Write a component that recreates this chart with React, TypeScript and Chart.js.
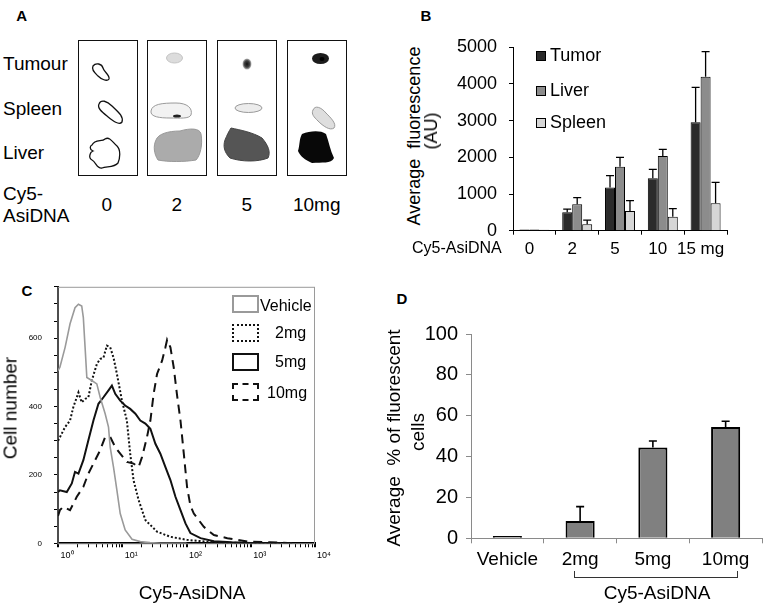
import React, { useEffect, useRef } from 'react';
import { Chart, registerables } from 'chart.js';

Chart.register(...registerables);

const FONT = "'Liberation Sans', Arial, Helvetica, sans-serif";

// ---------- Panel A (image panel: labels) ----------
const aOrgans = ['Tumour', 'Spleen', 'Liver'];
const aDoses = ['0', '2', '5', '10mg'];

// ---------- Panel B data ----------
const bCategories = ['0', '2', '5', '10', '15 mg'];
const bSeries = ['Tumor', 'Liver', 'Spleen'];
const bTumor = [30, 500, 1180, 1427, 2955];
const bTumorErr = [0, 90, 320, 245, 955];
const bLiver = [30, 718, 1745, 2036, 4200];
const bLiverErr = [0, 182, 255, 182, 682];
const bSpleen = [25, 173, 536, 382, 745];
const bSpleenErr = [0, 118, 282, 218, 573];

// ---------- Panel C data (x = Cy5 intensity, y = cell count) ----------
const cVehicle: [number, number][] = [
  [1.0, 505], [1.07, 515], [1.29, 573], [1.54, 642], [1.84, 689], [2.08, 699], [2.34, 694],
  [2.48, 660], [2.64, 573], [2.81, 485], [3.36, 476], [4.02, 466], [4.53, 427], [5.42, 379],
  [6.11, 340], [6.49, 281], [7.31, 223], [8.26, 155], [9.3, 87], [11.1, 39], [14.2, 12],
  [19.1, 5], [27, 2], [40, 0], [100, 0],
];
const c2mg: [number, number][] = [
  [1.0, 300], [1.07, 310], [1.29, 340], [1.54, 359], [1.73, 398], [1.96, 427], [2.08, 441],
  [2.34, 412], [2.64, 422], [2.97, 427], [3.36, 476], [4.02, 524], [4.53, 539], [5.1, 543],
  [5.77, 578], [6.49, 573], [7.31, 543], [8.26, 495], [9.9, 417], [11.8, 359], [13.3, 262],
  [15.0, 184], [18.0, 126], [22.9, 68], [34.8, 34], [56.2, 19], [102, 10], [200, 5],
  [400, 2], [1000, 1], [3000, 0],
];
const c5mg: [number, number][] = [
  [1.0, 150], [1.07, 155], [1.37, 150], [1.64, 175], [1.84, 209], [2.08, 204], [2.48, 243],
  [2.97, 301], [3.56, 359], [4.26, 408], [5.1, 427], [6.11, 447], [6.9, 461], [7.78, 437],
  [9.3, 417], [11.1, 403], [13.3, 393], [16.0, 379], [19.1, 359], [22.9, 350], [27.4, 335],
  [32.8, 291], [39.2, 262], [47.0, 223], [56.2, 185], [67.3, 136], [80.6, 97], [96.4, 58],
  [115, 30], [165, 15], [267, 6], [500, 3], [1000, 1], [3000, 0],
];
const c10mg: [number, number][] = [
  [1.0, 80], [1.07, 97], [1.21, 107], [1.54, 97], [1.96, 136], [2.48, 165], [2.97, 204],
  [3.56, 233], [4.53, 272], [5.42, 311], [6.49, 311], [7.78, 281], [9.3, 262], [11.8, 238],
  [15.0, 233], [18.0, 223], [20.3, 252], [24.3, 311], [27.4, 359], [30.8, 437], [34.8, 495],
  [41.7, 534], [47.0, 573], [49.9, 595], [56.2, 573], [63.3, 514], [71.6, 430], [80.6, 359],
  [90.8, 262], [102, 165], [115, 110], [130, 87], [186, 48], [267, 24], [432, 15], [888, 5],
  [2000, 3], [5000, 0],
];
const cDecades = [1, 10, 100, 1000, 10000];
const cDecadeLabels = ['10\u2070', '10\u00b9', '10\u00b2', '10\u00b3', '10\u2074'];
const cYLabels = [0, 200, 400, 600];
const cLegend = ['Vehicle', '2mg', '5mg', '10mg'];

// ---------- Panel D data ----------
const dCategories = ['Vehicle', '2mg', '5mg', '10mg'];
const dValues = [1.1, 8.5, 44.4, 54.5];
const dErr = [0, 7, 3.2, 2.8];

// ---------- plugins ----------
const errorBarPlugin = {
  id: 'errorBars',
  afterDatasetsDraw(chart: any, _args: any, opts: any) {
    const { ctx } = chart;
    const yScale = chart.scales.y;
    chart.data.datasets.forEach((ds: any, di: number) => {
      const errs: number[] | undefined = ds.errors;
      if (!errs) return;
      const meta = chart.getDatasetMeta(di);
      meta.data.forEach((bar: any, i: number) => {
        const e = errs[i];
        if (!e) return;
        const v = ds.data[i];
        const y0 = yScale.getPixelForValue(v);
        const y1 = yScale.getPixelForValue(v + e);
        const cap = opts.cap ?? 8;
        ctx.save();
        ctx.strokeStyle = '#000';
        ctx.lineWidth = opts.lineWidth ?? 1.3;
        ctx.beginPath();
        ctx.moveTo(bar.x, y0);
        ctx.lineTo(bar.x, y1);
        ctx.moveTo(bar.x - cap / 2, y1);
        ctx.lineTo(bar.x + cap / 2, y1);
        ctx.stroke();
        ctx.restore();
      });
    });
  },
};

const framePlugin = {
  id: 'frame',
  beforeDatasetsDraw(chart: any, _args: any, opts: any) {
    const { ctx, chartArea } = chart;
    ctx.save();
    ctx.strokeStyle = opts.color || '#999';
    ctx.lineWidth = 1;
    ctx.strokeRect(chartArea.left, chartArea.top + 0.5, chartArea.right - chartArea.left - 0.5, chartArea.bottom - chartArea.top);
    ctx.restore();
  },
};

const toXY = (arr: [number, number][]) => arr.map(([x, y]) => ({ x, y }));

// ---------- configs ----------
const bConfig = (): any => ({
  type: 'bar',
  data: {
    labels: bCategories,
    datasets: [
      { label: bSeries[0], data: bTumor, errors: bTumorErr, backgroundColor: '#2b2b2b', borderColor: '#000', borderWidth: 1 },
      { label: bSeries[1], data: bLiver, errors: bLiverErr, backgroundColor: '#8c8c8c', borderColor: '#000', borderWidth: 1 },
      { label: bSeries[2], data: bSpleen, errors: bSpleenErr, backgroundColor: '#d6d6d6', borderColor: '#000', borderWidth: 1 },
    ],
  },
  options: {
    responsive: false,
    animation: false,
    layout: { padding: { top: 27.3, right: 38, left: 0, bottom: 0 } },
    datasets: { bar: { categoryPercentage: 0.7, barPercentage: 1 } },
    plugins: { legend: { display: false }, tooltip: { enabled: false }, errorBars: { cap: 8, lineWidth: 1.3 } },
    scales: {
      x: {
        grid: { display: true, drawOnChartArea: false, offset: true, tickLength: 4, color: '#000' },
        border: { color: '#000', width: 1 },
        ticks: { color: '#000', font: { family: FONT, size: 17 }, padding: 4, labelOffset: -5, maxRotation: 0, autoSkip: false },
        afterFit: (s: any) => { s.height = 39.3; },
      },
      y: {
        min: 0,
        max: 5000,
        ticks: { stepSize: 1000, color: '#000', font: { family: FONT, size: 18 }, padding: 12, callback: (v: any) => String(v) },
        grid: { drawOnChartArea: false, tickLength: 4, color: '#000' },
        border: { color: '#000', width: 1 },
        afterFit: (s: any) => { s.width = 73; },
      },
    },
  },
  plugins: [errorBarPlugin],
});

const cConfig = (): any => ({
  type: 'line',
  data: {
    datasets: [
      { label: cLegend[0], data: toXY(cVehicle), borderColor: '#9a9a9a', borderWidth: 1.6 },
      { label: cLegend[1], data: toXY(c2mg), borderColor: '#111', borderWidth: 2, borderDash: [2, 2] },
      { label: cLegend[2], data: toXY(c5mg), borderColor: '#111', borderWidth: 2 },
      { label: cLegend[3], data: toXY(c10mg), borderColor: '#111', borderWidth: 2, borderDash: [9, 6] },
    ],
  },
  options: {
    responsive: false,
    animation: false,
    layout: { padding: { top: 15, right: 65, left: 0, bottom: 0 } },
    elements: { point: { radius: 0 }, line: { tension: 0 } },
    plugins: { legend: { display: false }, tooltip: { enabled: false }, frame: { color: '#9a9a9a' } },
    scales: {
      x: {
        type: 'logarithmic',
        min: 1,
        max: 10000,
        afterBuildTicks: (s: any) => {
          const t: any[] = [];
          cDecades.forEach((d, i) => {
            if (i === cDecades.length - 1) { t.push({ value: d, major: true }); return; }
            for (let k = 1; k <= 9; k++) t.push({ value: d * k, major: k === 1 });
          });
          s.ticks = t;
        },
        ticks: {
          autoSkip: false,
          maxRotation: 0,
          labelOffset: 9,
          padding: 3,
          color: '#000',
          font: { family: FONT, size: 9 },
          callback: (v: any) => {
            const i = cDecades.indexOf(Number(v));
            return i >= 0 ? cDecadeLabels[i] : '';
          },
        },
        grid: {
          drawOnChartArea: false,
          tickLength: 4,
          color: '#000',
          lineWidth: (ctx: any) => (ctx.tick && cDecades.includes(ctx.tick.value) ? 2 : 1),
        },
        border: { color: '#000', width: 2 },
        afterFit: (s: any) => { s.height = 59.7; },
      },
      y: {
        min: 0,
        max: 750,
        ticks: {
          stepSize: 50,
          autoSkip: false,
          color: '#000',
          font: { family: FONT, size: 8 },
          padding: 12,
          callback: (v: any) => (cYLabels.includes(Number(v)) ? String(v) : ''),
        },
        grid: { drawOnChartArea: false, tickLength: 4, color: '#000' },
        border: { color: '#000', width: 2 },
        afterFit: (s: any) => { s.width = 58; },
      },
    },
  },
  plugins: [framePlugin],
});

const dConfig = (): any => ({
  type: 'bar',
  data: {
    labels: dCategories,
    datasets: [
      { label: 'Average % of fluorescent cells', data: dValues, errors: dErr, backgroundColor: '#808080', borderColor: '#000', borderWidth: 2 },
    ],
  },
  options: {
    responsive: false,
    animation: false,
    layout: { padding: { top: 34, right: 3, left: 0, bottom: 0 } },
    datasets: { bar: { categoryPercentage: 0.4, barPercentage: 1 } },
    plugins: { legend: { display: false }, tooltip: { enabled: false }, errorBars: { cap: 8, lineWidth: 1.6 } },
    scales: {
      x: {
        grid: { display: true, drawOnChartArea: false, offset: true, tickLength: 5, color: '#8a8a8a' },
        border: { color: '#8a8a8a', width: 1 },
        ticks: { color: '#000', font: { family: FONT, size: 19 }, padding: 5, maxRotation: 0, autoSkip: false },
        afterFit: (s: any) => { s.height = 64.7; },
      },
      y: {
        min: 0,
        max: 100,
        ticks: { stepSize: 20, color: '#000', font: { family: FONT, size: 20 }, padding: 8 },
        grid: { drawOnChartArea: false, tickLength: 5, color: '#8a8a8a' },
        border: { color: '#8a8a8a', width: 1 },
        afterFit: (s: any) => { s.width = 91; },
      },
    },
  },
  plugins: [errorBarPlugin],
});

// ---------- helpers ----------
function ChartCanvas({ left, top, width, height, config }: { left: number; top: number; width: number; height: number; config: () => any }) {
  const ref = useRef<HTMLCanvasElement>(null);
  useEffect(() => {
    const chart = new Chart(ref.current as HTMLCanvasElement, config());
    return () => chart.destroy();
  }, []);
  return <canvas ref={ref} width={width} height={height} style={{ position: 'absolute', left, top, width, height }} />;
}

function T({ x, y, size, children, bold, rotate, left }: { x: number; y: number; size: number; children: React.ReactNode; bold?: boolean; rotate?: boolean; left?: boolean }) {
  return (
    <div
      style={{
        position: 'absolute',
        left: x,
        top: y,
        fontSize: size,
        fontWeight: bold ? 'bold' : 'normal',
        lineHeight: 1,
        whiteSpace: 'pre',
        color: '#000',
        transform: `translate(${left ? '0' : '-50%'}, -50%)${rotate ? ' rotate(-90deg)' : ''}`,
      }}
    >
      {children}
    </div>
  );
}

function PanelA() {
  const boxLefts = [77.7, 147, 217.3, 287];
  const organY = [63, 108, 152];
  const doseX = [106.7, 176.7, 246.7, 316.7];
  return (
    <>
      {aOrgans.map((o, i) => (
        <T key={o} x={3} y={organY[i]} size={19} left>{o}</T>
      ))}
      <T x={3} y={193} size={19} left>Cy5-</T>
      <T x={3} y={215} size={19} left>AsiDNA</T>
      {aDoses.map((d, i) => (
        <T key={d} x={doseX[i]} y={204} size={19}>{d}</T>
      ))}
      {boxLefts.map((l, i) => (
        <div key={i} style={{ position: 'absolute', left: l, top: 40, width: 58, height: 134, border: '1.5px solid #111' }} />
      ))}
      <svg width={360} height={270} style={{ position: 'absolute', left: 0, top: 0 }}>
        <defs>
          <radialGradient id="spot" cx="50%" cy="50%" r="50%">
            <stop offset="0%" stopColor="#111" />
            <stop offset="60%" stopColor="#444" />
            <stop offset="100%" stopColor="#bbb" />
          </radialGradient>
        </defs>
        <g fill="none" stroke="#111" strokeWidth={1.3}>
          <path d="M93,66 C96,62 102,64 103,68 C104,72 110,75 109,79 C107,82 101,79 98,76 C95,73 91,70 93,66 Z" />
          <path d="M99,104 C101,99 107,101 112,106 C117,111 124,116 122,122 C119,126 112,120 107,116 C102,112 97,108 99,104 Z" />
          <path d="M92,145 C95,139 102,142 105,139 C110,136 113,143 117,146 C121,150 120,158 118,163 C114,168 106,166 102,168 C97,169 96,162 92,160 C88,158 90,152 93,151 C89,149 90,146 92,145 Z" />
        </g>
        <ellipse cx={174.5} cy={58} rx={8} ry={5} fill="#dcdcdc" stroke="#c4c4c4" />
        <path d="M151,111 C152,104 162,103 176,103 C187,103 193,108 191,115 C189,119 180,118 170,118 C160,118 150,117 151,111 Z" fill="#f2f2f2" stroke="#9a9a9a" strokeWidth={1} />
        <ellipse cx={177} cy={116} rx={4} ry={1.6} fill="#222" />
        <path d="M156,140 C158,134 168,131 180,131 C190,128 200,128 201,134 C203,145 200,156 196,160 C184,162 168,162 158,160 C154,154 153,146 156,140 Z" fill="#ababab" stroke="#999" />
        <ellipse cx={247} cy={64} rx={4.5} ry={5.5} fill="url(#spot)" />
        <ellipse cx={248.5} cy={108} rx={13.5} ry={4.5} fill="#ececec" stroke="#9a9a9a" />
        <path d="M231,128 C240,130 252,132 262,138 C268,145 271,152 268,158 C258,162 242,162 230,158 C224,152 223,146 225,140 C227,135 229,131 231,128 Z" fill="#555" stroke="#444" />
        <ellipse cx={320.5} cy={58.5} rx={8.5} ry={5.5} fill="#1c1c1c" />
        <ellipse cx={322} cy={59} rx={2.5} ry={2} fill="#000" />
        <path d="M313,110 C315,105 321,107 326,113 C331,118 337,124 334,128 C330,131 323,126 318,121 C314,117 311,114 313,110 Z" fill="#dedede" stroke="#9a9a9a" />
        <path d="M302,134 C310,131 320,130 326,134 C329,142 330,150 334,158 C331,164 322,162 312,163 C305,160 300,156 298,151 C300,145 299,139 302,134 Z" fill="#080808" />
      </svg>
    </>
  );
}

function PanelB() {
  const colors = ['#2b2b2b', '#8c8c8c', '#d6d6d6'];
  const legendY = [55, 90, 122];
  return (
    <>
      <ChartCanvas left={440} top={20} width={325} height={250} config={bConfig} />
      {bSeries.map((s, i) => (
        <React.Fragment key={s}>
          <div style={{ position: 'absolute', left: 536, top: legendY[i] - 4.5, width: 8, height: 8, background: colors[i], border: '1px solid #000' }} />
          <T x={550} y={legendY[i]} size={18} left>{s}</T>
        </React.Fragment>
      ))}
      <T x={414} y={136} size={18} rotate>{'Average  fluorescence'}</T>
      <T x={431} y={131} size={18} rotate>(AU)</T>
      <T x={412} y={248} size={16} left>Cy5-AsiDNA</T>
    </>
  );
}

function PanelC() {
  const boxes = [
    { top: 295, style: '2px solid #9a9a9a', tx: 260, ty: 306 },
    { top: 324, style: '2.5px dotted #111', tx: 275, ty: 333 },
    { top: 353, style: '2px solid #111', tx: 275, ty: 362 },
    { top: 383, style: '2.5px dashed #111', tx: 267, ty: 393 },
  ];
  return (
    <>
      <ChartCanvas left={0} top={270} width={380} height={333} config={cConfig} />
      {cLegend.map((l, i) => (
        <React.Fragment key={l}>
          <div style={{ position: 'absolute', left: 232, top: boxes[i].top, width: 23, height: 14, border: boxes[i].style, background: 'transparent' }} />
          <T x={boxes[i].tx} y={boxes[i].ty} size={16} left>{l}</T>
        </React.Fragment>
      ))}
      <T x={10} y={408} size={19} rotate>Cell number</T>
      <T x={192} y={592} size={19}>Cy5-AsiDNA</T>
    </>
  );
}

function PanelD() {
  return (
    <>
      <ChartCanvas left={380} top={300} width={385} height={303} config={dConfig} />
      <T x={393} y={438} size={19} rotate>{'Average  % of fluorescent'}</T>
      <T x={416.7} y={432} size={19} rotate>cells</T>
      <div style={{ position: 'absolute', left: 574, top: 571, width: 162, height: 6, borderLeft: '1px solid #333', borderRight: '1px solid #333', borderBottom: '1px solid #333' }} />
      <T x={657} y={592} size={19}>Cy5-AsiDNA</T>
    </>
  );
}

export default function App() {
  return (
    <div style={{ position: 'absolute', left: 0, top: 0, width: 765, height: 603, background: '#fff', overflow: 'hidden', fontFamily: FONT }}>
      <T x={21.7} y={15} size={15} bold>A</T>
      <T x={426} y={15} size={15} bold>B</T>
      <T x={27} y={290} size={15} bold>C</T>
      <T x={402} y={298} size={15} bold>D</T>
      <PanelA />
      <PanelB />
      <PanelC />
      <PanelD />
    </div>
  );
}
